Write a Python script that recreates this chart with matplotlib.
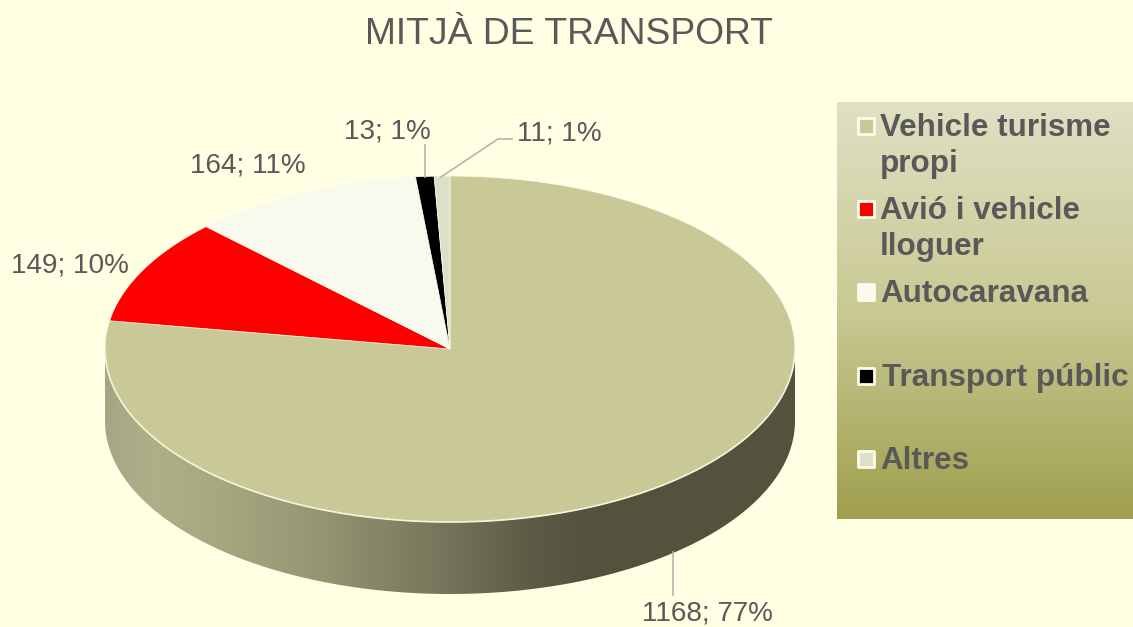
import matplotlib
matplotlib.use("Agg")
import matplotlib.pyplot as plt
from matplotlib.colors import LinearSegmentedColormap
from matplotlib.patches import Polygon
import numpy as np

plt.rcParams['font.family'] = ['Liberation Sans', 'DejaVu Sans']

title = "MITJÀ DE TRANSPORT"
categories = ["Vehicle turisme\npropi", "Avió i vehicle\nlloguer", "Autocaravana", "Transport públic", "Altres"]
values = [1168, 149, 164, 13, 11]
percents = [77, 10, 11, 1, 1]
colors = ["#c9c997", "#ff0000", "#f9faee", "#000000", "#dedfc8"]

bg = "#ffffe3"
text_col = "#595959"

# ellipse of the pie, in pixels of the figure
cx, cy, rx, ry, depth = 450, 349, 345, 173, 72

fig = plt.figure(figsize=(11.33, 6.27), dpi=100, facecolor=bg)
ax = fig.add_axes([0, 0, 1, 1])
ax.axis("off")


def rim(t):
    # t in radians, clockwise from top
    return cx + rx * np.sin(t), cy - ry * np.cos(t)


### side of the pie with horizontal gradient
t = np.linspace(np.pi / 2, 3 * np.pi / 2, 300)
x, y = rim(t)
side_xy = np.r_[np.c_[x, y], np.c_[x[::-1], y[::-1] + depth]]
side = Polygon(side_xy, closed=True, fc="none", ec="none")
ax.add_patch(side)
side_cmap = LinearSegmentedColormap.from_list("side", [
    (0.0, "#a6a684"), (0.07, "#afaf89"), (0.18, "#a5a57f"), (0.32, "#949472"),
    (0.50, "#73735a"), (0.62, "#5c5c46"), (0.70, "#52523d"), (1.0, "#52523d")])
im = ax.imshow(np.linspace(0, 1, 256)[None, :], cmap=side_cmap, aspect="auto",
               extent=[cx - rx, cx + rx, cy + ry + depth, cy], zorder=1)
im.set_clip_path(side)

### top of the pie, slices go clockwise from 12 o'clock
edges = np.r_[0, np.cumsum(values)] / np.sum(values) * 2 * np.pi
for i in range(len(values)):
    t = np.linspace(edges[i], edges[i + 1], 120)
    x, y = rim(t)
    ax.fill(np.r_[cx, x], np.r_[cy, y], fc=colors[i], ec="#fbfbe8", lw=0.5, zorder=3)
# pale rim along the front edge
t = np.linspace(np.pi / 2, 3 * np.pi / 2, 300)
ax.plot(*rim(t), color="#f4f4dc", lw=1.2, zorder=4)

### data labels
labels = ["%d; %d%%" % (v, p) for v, p in zip(values, percents)]
label_pos = [(707, 610.5), (70, 262.5), (248, 162), (387, 129), (559, 130)]
for s, (lx, ly) in zip(labels, label_pos):
    ax.text(lx, ly, s, fontsize=20.1, color=text_col, ha="center", va="center_baseline", zorder=5)

# leader lines
ax.plot([673, 673], [552, 595], color="#b5b5b0", lw=1.2, zorder=4)
ax.plot([425, 425], [145, 177], color="#b5b5b0", lw=1.2, zorder=4)
ax.plot([441, 498, 512], [177, 139, 139], color="#b5b5b0", lw=1.2, zorder=4)

ax.text(569, 30, title, fontsize=26.8, color=text_col, ha="center", va="center_baseline")

### legend box
box = ax.imshow(np.linspace(0, 1, 256)[:, None], aspect="auto", zorder=1,
                cmap=LinearSegmentedColormap.from_list("box", ["#e0e0c4", "#c9c994", "#9f9f4e"]),
                extent=[837, 1133, 519, 102])

leg_y = [126, 209, 292, 376, 459]
leg_tx = [880, 880, 880, 882, 880]
for c, s, ty, tx in zip(colors, categories, leg_y, leg_tx):
    ax.scatter([866], [ty], marker="s", s=130, c=c, edgecolors="#fdfdea", linewidths=2, zorder=3)
    ax.text(tx, ty - 13, s, fontsize=22.6, fontweight="bold", color=text_col, va="top", ha="left",
            linespacing=1.28, zorder=3)

ax.set_xlim(0, 1133)
ax.set_ylim(627, 0)
fig.savefig("out.png", dpi=100, facecolor=bg)
